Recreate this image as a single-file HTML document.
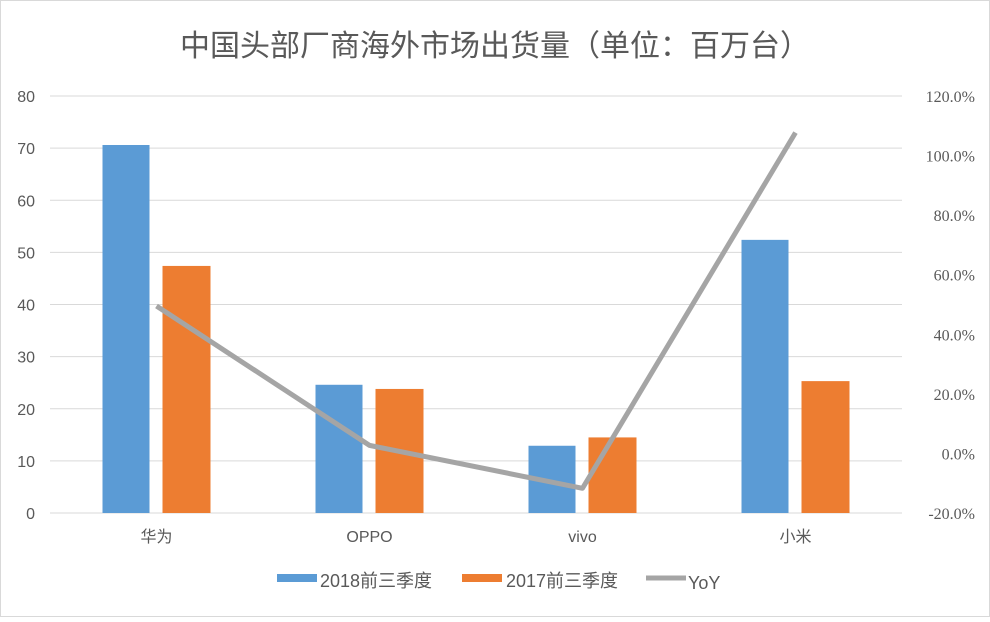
<!DOCTYPE html>
<html><head><meta charset="utf-8"><style>
body{margin:0;background:#fff}
svg text{font-family:"Liberation Sans","Noto Sans CJK SC",sans-serif;fill:#595959}
</style></head><body>
<svg id="c" width="990" height="617" xmlns="http://www.w3.org/2000/svg">
<rect x="0.5" y="0.5" width="989" height="616" fill="#fff" stroke="#d9d9d9"/>
<text x="495" y="56" text-anchor="middle" font-size="30">中国头部厂商海外市场出货量（单位：百万台）</text>
<g id="grid"></g><g id="bars"></g><g id="line"></g><g id="axes"></g>
<g>
<rect x="277" y="574" width="40" height="8" fill="#5b9bd5"/>
<text x="320" y="587" font-size="18">2018前三季度</text>
<rect x="462" y="574" width="40" height="8" fill="#ed7d31"/>
<text x="506" y="587" font-size="18">2017前三季度</text>
<line x1="646" y1="578" x2="686" y2="578" stroke="#a5a5a5" stroke-width="5"/>
<text x="688" y="589" font-size="18">YoY</text>
</g>
</svg>
<script>
const categories=["华为","OPPO","vivo","小米"];
const s2018=[70.6,24.6,12.9,52.4];
const s2017=[47.4,23.8,14.5,25.3];
const yoy=[49.5,2.7,-11.7,107.7];
const leftTicks=[0,10,20,30,40,50,60,70,80];
const rightTicks=[-20,0,20,40,60,80,100,120];
const NS="http://www.w3.org/2000/svg";
const X0=50,X1=902,Y0=513,Y1=96;
const yL=v=>Y0-(v/80)*(Y0-Y1);
const yR=v=>Y0-((v+20)/140)*(Y0-Y1);
const bw=(X1-X0)/categories.length;
const xc=i=>X0+bw*(i+0.5);
function mk(t,a,p){const e=document.createElementNS(NS,t);for(const k in a)e.setAttribute(k,a[k]);document.getElementById(p).appendChild(e);return e;}
leftTicks.forEach((v,i)=>{
 const l=mk('line',{x1:X0,x2:X1,y1:yL(v),y2:yL(v),stroke:'#d9d9d9'},'grid');
 
 
 const t=mk('text',{x:35,y:yL(v)+6,'text-anchor':'end','font-size':'16'},'axes');t.textContent=v;
 
 
});
rightTicks.forEach(v=>{
 const t=mk('text',{x:975,y:yR(v)+6,'text-anchor':'end','font-size':'16','style':'font-family:"Liberation Serif",serif'},'axes');t.textContent=v.toFixed(1)+'%';
 
 
});
categories.forEach((c,i)=>{
 const b1=mk('rect',{x:xc(i)-54,y:yL(s2018[i]),width:47,height:Y0-yL(s2018[i]),fill:'#5b9bd5'},'bars');
 
 
 const b2=mk('rect',{x:xc(i)+6,y:yL(s2017[i]),width:48,height:Y0-yL(s2017[i]),fill:'#ed7d31'},'bars');
 
 
 const t=mk('text',{x:xc(i),y:542,'text-anchor':'middle','font-size':'16'},'axes');t.textContent=c;
 
 
});
const pl=mk('polyline',{points:yoy.map((v,i)=>xc(i)+','+yR(v)).join(' '),fill:'none',stroke:'#a5a5a5','stroke-width':5,'stroke-linejoin':'round'},'line');


</script>
</body></html>
